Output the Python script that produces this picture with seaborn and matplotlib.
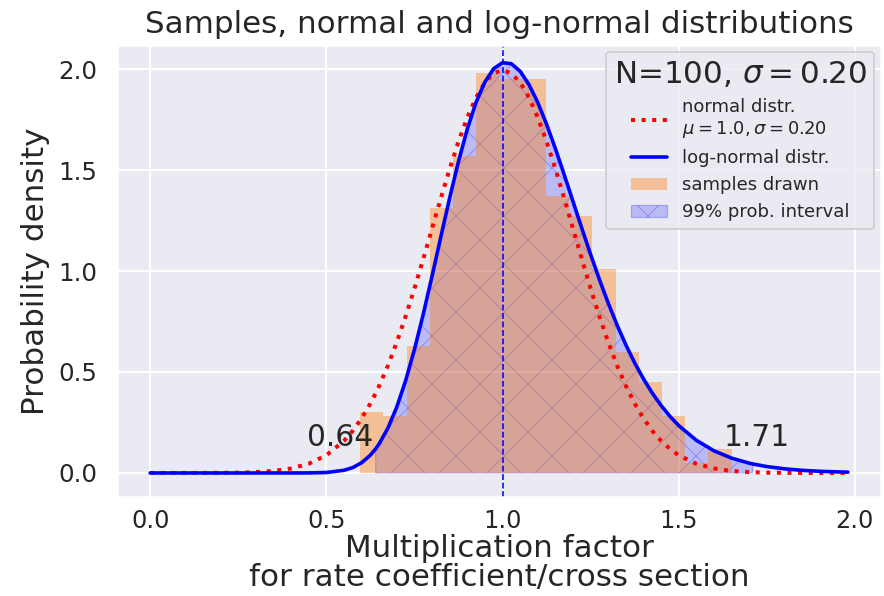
import matplotlib
matplotlib.use("Agg")
import matplotlib.pyplot as plt
import seaborn as sns
import numpy as np

# ---------------- data ----------------
curve_x = [0.00, 0.05, 0.10, 0.15, 0.20, 0.25, 0.30, 0.35, 0.40, 0.45, 0.50, 0.55,
           0.575, 0.600, 0.625, 0.640, 0.650, 0.675, 0.700, 0.725, 0.750, 0.775, 0.800,
           0.825, 0.850, 0.875, 0.900, 0.925, 0.950, 0.975, 1.000, 1.025, 1.050,
           1.075, 1.100, 1.125, 1.150, 1.175, 1.200, 1.225, 1.250, 1.275, 1.300,
           1.325, 1.350, 1.375, 1.400, 1.425, 1.450, 1.475, 1.500,
           1.55, 1.60, 1.65, 1.70, 1.71, 1.75, 1.80, 1.85, 1.90, 1.95, 1.98]

normal_pdf = [0.0000, 0.0000, 0.0001, 0.0002, 0.0007, 0.0018, 0.0044, 0.0101, 0.0222, 0.0455,
              0.0876, 0.1587, 0.2086, 0.2700, 0.3439, 0.3948, 0.4314, 0.5326, 0.6476, 0.7751,
              0.9132, 1.0594, 1.2099, 1.3603, 1.5057, 1.6408, 1.7603, 1.8593, 1.9333, 1.9792,
              1.9947, 1.9792, 1.9333, 1.8593, 1.7603, 1.6408, 1.5057, 1.3603, 1.2099, 1.0594,
              0.9132, 0.7751, 0.6476, 0.5326, 0.4314, 0.3439, 0.2700, 0.2086, 0.1587, 0.1195,
              0.0876, 0.0455, 0.0222, 0.0101, 0.0044, 0.0037, 0.0018, 0.0007, 0.0002, 0.0001,
              0.0000, 0.0000]

lognormal_pdf = [0.0000, 0.0000, 0.0000, 0.0000, 0.0000, 0.0000, 0.0000, 0.0000, 0.0000, 0.0003,
                 0.0024, 0.0132, 0.0268, 0.0505, 0.0882, 0.1194, 0.1444, 0.2230, 0.3269, 0.4567,
                 0.6109, 0.7857, 0.9745, 1.1695, 1.3619, 1.5422, 1.7023, 1.8355, 1.9362, 2.0019,
                 2.0315, 2.0263, 1.9888, 1.9232, 1.8341, 1.7266, 1.6059, 1.4770, 1.3442, 1.2113,
                 1.0816, 0.9575, 0.8408, 0.7328, 0.6342, 0.5451, 0.4657, 0.3955, 0.3340, 0.2806,
                 0.2346, 0.1618, 0.1098, 0.0734, 0.0485, 0.0446, 0.0317, 0.0205, 0.0131, 0.0083,
                 0.0053, 0.0040]

hist_edges = [0.596, 0.662, 0.728, 0.794, 0.859, 0.925, 0.991, 1.057, 1.123,
              1.189, 1.255, 1.321, 1.387, 1.452, 1.518, 1.584, 1.650]
hist_density = [0.30, 0.28, 0.63, 1.31, 1.57, 1.98, 1.95, 1.95,
                1.37, 1.27, 1.01, 0.60, 0.45, 0.28, 0.05, 0.12]

interval_bounds = [0.64, 1.71]
interval_texts = ["0.64", "1.71"]
mode_value = 1.0

title = "Samples, normal and log-normal distributions"
xlabel = "Multiplication factor\nfor rate coefficient/cross section"
ylabel = "Probability density"
legend_title = "N=100, $\\sigma=0.20$"
legend_labels = ["normal distr.\n$\\mu=1.0, \\sigma=0.20$", "log-normal distr.",
                 "samples drawn", "99% prob. interval"]

# ---------------- style ----------------
sns.set_theme(style="darkgrid")
plt.rcParams['font.family'] = ['DejaVu Sans']
plt.rcParams['hatch.linewidth'] = 0.5

DPI = 144
W, H = 884, 596
fig = plt.figure(figsize=(W / DPI, H / DPI), dpi=DPI)
ax = fig.add_axes([117 / W, 1 - 497 / H, (881 - 117) / W, (497 - 45) / H])

# 99% probability interval: area under the log-normal curve
cx = np.array(curve_x)
cy = np.array(lognormal_pdf)
inside = (cx >= interval_bounds[0] - 1e-9) & (cx <= interval_bounds[1] + 1e-9)
blue_fill = ax.fill_between(cx, 0, cy, where=inside, facecolor=(0, 0, 1, 0.2),
                            edgecolor=(0, 0, 1, 0.25), linewidth=0.6, hatch="x")

# samples histogram
hist_centers = [(a + b) / 2 for a, b in zip(hist_edges[:-1], hist_edges[1:])]
sns.histplot(x=hist_centers, weights=hist_density, bins=hist_edges,
             stat="count", element="bars", ax=ax,
             color="tab:orange", alpha=0.4, linewidth=0)
orange_patch = ax.containers[-1].patches[0]

# curves
sns.lineplot(x=curve_x, y=normal_pdf, color="red", linestyle=":", linewidth=2.0, ax=ax)
red_line = ax.lines[-1]
sns.lineplot(x=curve_x, y=lognormal_pdf, color="blue", linewidth=1.8, ax=ax)
blue_line = ax.lines[-1]

ax.axvline(mode_value, color="blue", linestyle="--", linewidth=0.8)

# interval texts
ax.text(interval_bounds[0] - 0.006, 0.135, interval_texts[0], ha="right", va="baseline",
        fontsize=14.8, color="#262626")
ax.text(interval_bounds[1] + 0.01, 0.135, interval_texts[1], ha="center", va="baseline",
        fontsize=14.8, color="#262626")

ax.set_xlim(-0.094, 2.074)
ax.set_ylim(-0.119, 2.119)
ax.set_xticks([0.0, 0.5, 1.0, 1.5, 2.0])
ax.set_yticks([0.0, 0.5, 1.0, 1.5, 2.0])
ax.tick_params(axis="x", labelsize=12, pad=0)
ax.tick_params(axis="y", labelsize=12.25, pad=4)

ax.set_title(title, fontsize=15.5)
ax.set_xlabel(xlabel, fontsize=15.5, labelpad=0.5, linespacing=1.0)
ax.set_ylabel(ylabel, fontsize=15.5)

leg = ax.legend([red_line, blue_line, orange_patch, blue_fill], legend_labels,
                title=legend_title, loc="upper right", fontsize=9, title_fontsize=15.5,
                borderaxespad=0.4)

fig.savefig("out.png", dpi=DPI)
